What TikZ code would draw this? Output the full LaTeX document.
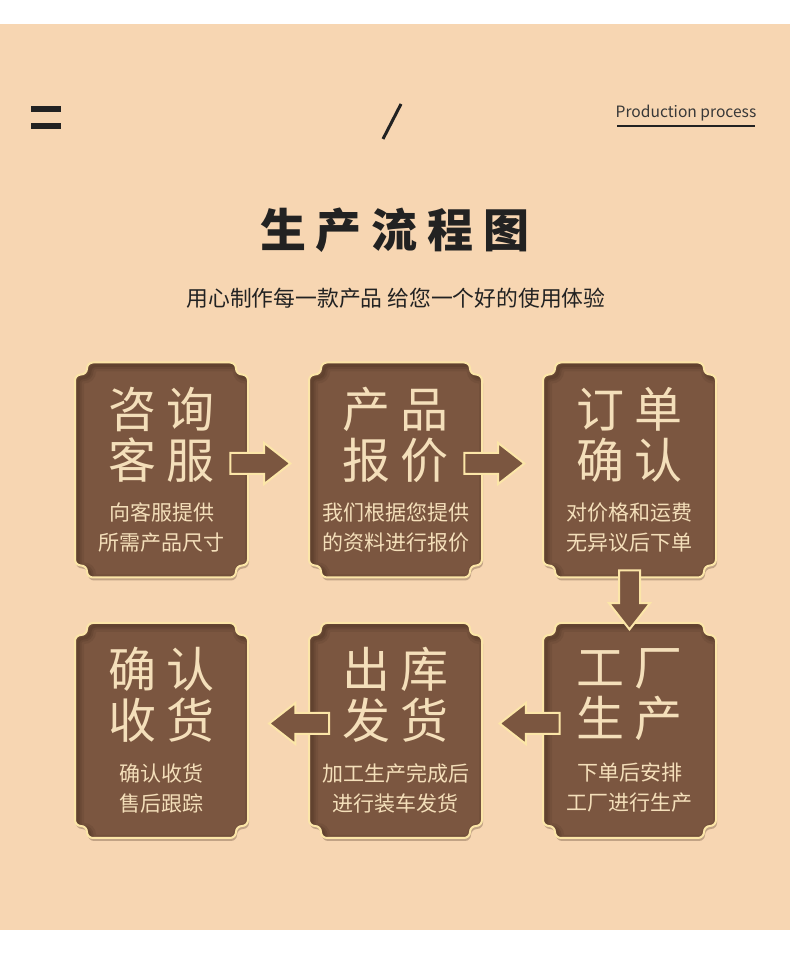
\documentclass[tikz,border=0pt]{standalone}
\usepackage{fontspec}
\usepackage{xcolor}
\usepackage{tikz}
\usetikzlibrary{positioning, calc, shapes.arrows, shadows}
\newfontfamily\cjk{Noto Sans CJK SC}
\definecolor{fond}{HTML}{F7D6B2}
\definecolor{brun}{HTML}{7B5640}
\definecolor{brunfonce}{HTML}{4A2F20}
\definecolor{lisere}{HTML}{FCE6A8}
\definecolor{creme}{HTML}{F4DFBA}
\definecolor{encre}{HTML}{222222}
% contour du cadre (centre a l'origine, 173 x 215)
\newcommand{\formecadre}{(-86.5,89.5)
  arc[start angle=180,end angle=90,radius=6] arc[start angle=270,end angle=360,radius=6]
  arc[start angle=180,end angle=90,radius=6] -- (68.5,107.5)
  arc[start angle=90,end angle=0,radius=6] arc[start angle=180,end angle=270,radius=6]
  arc[start angle=90,end angle=0,radius=6] -- (86.5,-89.5)
  arc[start angle=0,end angle=-90,radius=6] arc[start angle=90,end angle=180,radius=6]
  arc[start angle=0,end angle=-90,radius=6] -- (-68.5,-107.5)
  arc[start angle=270,end angle=180,radius=6] arc[start angle=0,end angle=90,radius=6]
  arc[start angle=270,end angle=180,radius=6] -- cycle}
\newcommand{\cadre}[1]{%
  \begin{scope}[shift={(#1.center)}]
    \fill[brun, drop shadow={shadow xshift=1pt, shadow yshift=-3pt, opacity=0.3, fill=brunfonce}] \formecadre;
    \begin{scope}
      \clip \formecadre;
      \foreach \w/\o in {12/0.15, 7/0.2, 3/0.25}
        \draw[brunfonce, line width=\w, opacity=\o, shift={(3,-3)}] \formecadre;
    \end{scope}
    \draw[lisere, line width=2] \formecadre;
  \end{scope}}
\tikzset{
  bloc/.style={rectangle, draw=none, minimum width=173pt, minimum height=215pt, inner sep=0pt},
  fleche/.style={single arrow, fill=brun, draw=lisere, line width=2pt, inner xsep=0pt,
    inner ysep=9.5pt, single arrow head extend=10pt, single arrow tip angle=76,
    minimum height=60pt, anchor=center},
  grand/.style={font=\cjk\fontsize{48pt}{51pt}\selectfont, text=creme, align=center, inner sep=0pt},
  petit/.style={font=\cjk\fontsize{21pt}{30pt}\selectfont, text=creme, align=center, inner sep=0pt},
  titre/.style={font=\cjk\bfseries\fontsize{46pt}{50pt}\selectfont, text=encre, inner sep=0pt},
  soustitre/.style={font=\cjk\fontsize{21.8pt}{24pt}\selectfont, text=encre, inner sep=0pt},
  entete/.style={font=\cjk\fontsize{15.6pt}{18pt}\selectfont, text=encre!90, inner sep=0pt}
}
\begin{document}
\begin{tikzpicture}[x=1pt, y=1pt]
    \useasboundingbox (0,0) rectangle (790,956);
    \fill[white] (0,0) rectangle (790,956);
    \fill[fond] (0,26) rectangle (790,932);

    % En-tete
    \fill[encre] (31,844) rectangle (61,850);
    \fill[encre] (31,827) rectangle (61,833);
    \draw[encre, line width=3pt] (383,817) -- (401,852);
    \node[entete, anchor=base] (prod) at (686,838) {Production process};
    \draw[encre, line width=1.2pt] (617,830) -- (755,830);

    % Titre
    \node[titre] (titre) at (395,726) {生\hspace{10pt}产\hspace{10pt}流\hspace{10pt}程\hspace{10pt}图};
    \node[soustitre] (sous) at (396,658) {用心制作每一款产品 给您一个好的使用体验};

    % Cadres
    \node[bloc] (b1) at (161.5,486) {};
    \node[bloc] (b2) at (395.5,486) {};
    \node[bloc] (b3) at (629.5,486) {};
    \node[bloc] (b4) at (161.5,225.5) {};
    \node[bloc] (b5) at (395.5,225.5) {};
    \node[bloc] (b6) at (629.5,225.5) {};
    \foreach \n in {b1, b2, b3, b4, b5, b6} { \cadre{\n} }

    % Fleches
    \node[fleche] (f12) at ($(b1.east)+(5.5,6.5)$) {};
    \node[fleche] (f23) at ($(b2.east)+(5.5,6.5)$) {};
    \node[fleche, rotate=-90, minimum height=59pt] (f36) at ($(b3.south)+(0,-15.5)$) {};
    \node[fleche, rotate=180] (f65) at ($(b6.west)+(-6.5,7)$) {};
    \node[fleche, rotate=180] (f54) at ($(b5.west)+(-3,7)$) {};

    % Textes
    \node[grand] (g1) at ($(b1.center)+(0,35.5)$) {咨\hspace{11pt}询\\客\hspace{11pt}服};
    \node[petit] (p1) at ($(b1.center)+(0,-57.5)$) {向客服提供\\所需产品尺寸};
    \node[grand] (g2) at ($(b2.center)+(0,35.5)$) {产\hspace{11pt}品\\报\hspace{11pt}价};
    \node[petit] (p2) at ($(b2.center)+(0,-57.5)$) {我们根据您提供\\的资料进行报价};
    \node[grand] (g3) at ($(b3.center)+(0,35.5)$) {订\hspace{11pt}单\\确\hspace{11pt}认};
    \node[petit] (p3) at ($(b3.center)+(0,-57.5)$) {对价格和运费\\无异议后下单};
    \node[grand] (g4) at ($(b4.center)+(0,35.5)$) {确\hspace{11pt}认\\收\hspace{11pt}货};
    \node[petit] (p4) at ($(b4.center)+(0,-57.5)$) {确认收货\\售后跟踪};
    \node[grand] (g5) at ($(b5.center)+(0,35.5)$) {出\hspace{11pt}库\\发\hspace{11pt}货};
    \node[petit] (p5) at ($(b5.center)+(0,-57.5)$) {加工生产完成后\\进行装车发货};
    \node[grand] (g6) at ($(b6.center)+(0,35.5)$) {工\hspace{11pt}厂\\生\hspace{11pt}产};
    \node[petit] (p6) at ($(b6.center)+(0,-57.5)$) {下单后安排\\工厂进行生产};
\end{tikzpicture}
\end{document}
